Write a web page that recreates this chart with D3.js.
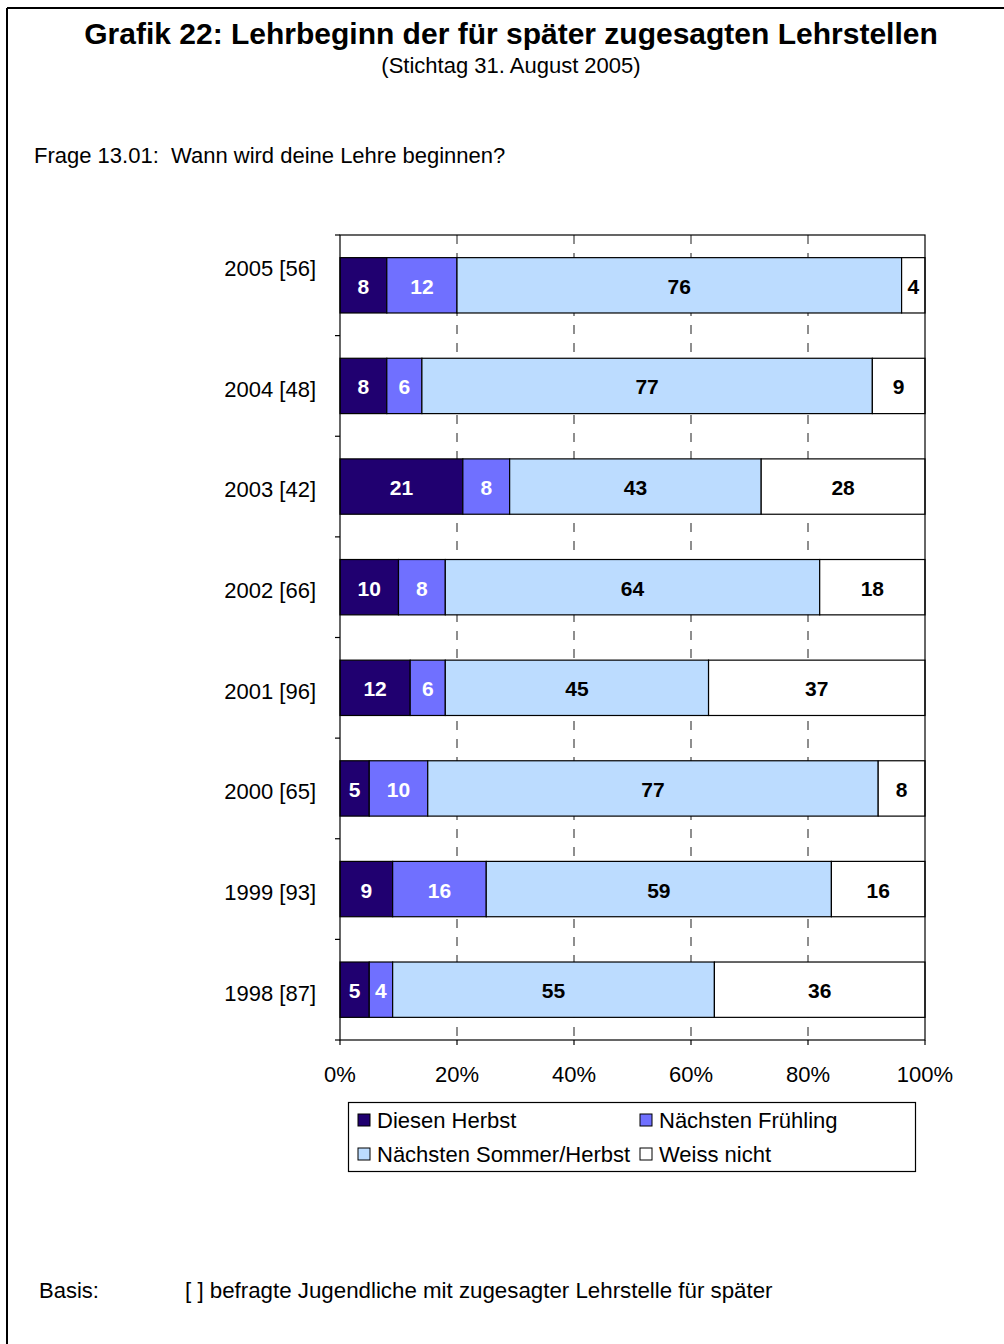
<!DOCTYPE html>
<html>
<head>
<meta charset="utf-8">
<script src="https://d3js.org/d3.v7.min.js"></script>
<style>
  body { margin: 0; background: #fff; }
  text { font-family: Arial, "Liberation Sans", sans-serif; }
</style>
</head>
<body>
<div id="chart"></div>
<script>
// values (percent per year)
var years = ["2005 [56]", "2004 [48]", "2003 [42]", "2002 [66]", "2001 [96]", "2000 [65]", "1999 [93]", "1998 [87]"];
var diesenHerbst   = [8, 8, 21, 10, 12, 5, 9, 5];
var naechstenFrueh = [12, 6, 8, 8, 6, 10, 16, 4];
var naechstenSomm  = [76, 77, 43, 64, 45, 77, 59, 55];
var weissNicht     = [4, 9, 28, 18, 37, 8, 16, 36];
var seriesNames = ["Diesen Herbst", "Nächsten Frühling", "Nächsten Sommer/Herbst", "Weiss nicht"];
var xTicks = [0, 20, 40, 60, 80, 100];

var colors = ["#200070", "#7070ff", "#bcdcff", "#ffffff"];
var labelColors = ["#fff", "#fff", "#000", "#000"];

var W = 1004, H = 1344;
var svg = d3.select("#chart").append("svg")
    .attr("width", W).attr("height", H);

// outer frame (top + left)
svg.append("line").attr("x1", 7).attr("x2", W).attr("y1", 8).attr("y2", 8)
    .attr("stroke", "#000").attr("stroke-width", 2);
svg.append("line").attr("x1", 7).attr("x2", 7).attr("y1", 8).attr("y2", H)
    .attr("stroke", "#000").attr("stroke-width", 2);

// titles
svg.append("text").attr("x", 511).attr("y", 44).attr("text-anchor", "middle")
    .style("font-size", "30px").style("font-weight", "bold")
    .text("Grafik 22: Lehrbeginn der für später zugesagten Lehrstellen");
svg.append("text").attr("x", 511).attr("y", 73).attr("text-anchor", "middle")
    .style("font-size", "22px")
    .text("(Stichtag 31. August 2005)");
svg.append("text").attr("x", 34).attr("y", 163)
    .style("font-size", "22px").style("white-space", "pre")
    .text("Frage 13.01:  Wann wird deine Lehre beginnen?");

// plot area
var plotL = 340, plotR = 925, plotT = 235, plotB = 1040;

var x = d3.scaleLinear().domain([0, 100]).range([plotL, plotR]);
var y = d3.scaleBand().domain(years).range([plotT, plotB]).paddingInner(0.45).paddingOuter(0.225);

// stacked table
var table = years.map(function(yr, i) {
    return { year: yr, a: diesenHerbst[i], b: naechstenFrueh[i], c: naechstenSomm[i], d: weissNicht[i] };
});
var keys = ["a", "b", "c", "d"];
var stacked = d3.stack().keys(keys)(table);

// dashed gridlines
svg.append("g").selectAll("line")
    .data(xTicks.filter(function(t) { return t > 0 && t < 100; }))
    .enter().append("line")
    .attr("x1", function(d) { return x(d); })
    .attr("x2", function(d) { return x(d); })
    .attr("y1", plotT).attr("y2", plotB)
    .attr("stroke", "#444").attr("stroke-width", 1.2)
    .attr("stroke-dasharray", "9,9");

// bars
var groups = svg.append("g").selectAll("g")
    .data(stacked).enter().append("g")
    .attr("fill", function(d, i) { return colors[i]; });

groups.selectAll("rect")
    .data(function(d) { return d; })
    .enter().append("rect")
    .attr("x", function(d) { return x(d[0]); })
    .attr("width", function(d) { return x(d[1]) - x(d[0]); })
    .attr("y", function(d) { return y(d.data.year); })
    .attr("height", y.bandwidth())
    .attr("stroke", "#000").attr("stroke-width", 1.2);

// value labels
groups.each(function(s, i) {
    d3.select(this).selectAll("text")
        .data(s).enter().append("text")
        .attr("x", function(d) { return (x(d[0]) + x(d[1])) / 2; })
        .attr("y", function(d) { return y(d.data.year) + y.bandwidth() / 2 + 1; })
        .attr("dy", "0.36em")
        .attr("text-anchor", "middle")
        .style("font-size", "21px").style("font-weight", "bold")
        .attr("fill", labelColors[i])
        .text(function(d) { return d[1] - d[0]; });
});

// plot frame
svg.append("rect").attr("x", plotL).attr("y", plotT)
    .attr("width", plotR - plotL).attr("height", plotB - plotT)
    .attr("fill", "none").attr("stroke", "#000").attr("stroke-width", 1.2);

// y axis ticks at band boundaries
var bounds = d3.range(years.length + 1).map(function(i) { return plotT + i * (plotB - plotT) / years.length; });
svg.append("g").selectAll("line").data(bounds).enter().append("line")
    .attr("x1", plotL - 5).attr("x2", plotL)
    .attr("y1", function(d) { return d; }).attr("y2", function(d) { return d; })
    .attr("stroke", "#000").attr("stroke-width", 1.2);

// x axis tick marks and labels
svg.append("g").selectAll("line").data(xTicks).enter().append("line")
    .attr("x1", function(d) { return x(d); }).attr("x2", function(d) { return x(d); })
    .attr("y1", plotB).attr("y2", plotB + 5)
    .attr("stroke", "#000").attr("stroke-width", 1.2);
svg.append("g").selectAll("text").data(xTicks).enter().append("text")
    .attr("x", function(d) { return x(d); })
    .attr("y", plotB + 42)
    .attr("text-anchor", "middle")
    .style("font-size", "22px")
    .text(function(d) { return d + "%"; });

// category labels
svg.append("g").selectAll("text").data(years).enter().append("text")
    .attr("x", 316)
    .attr("y", function(d, i) { return y(d) + y.bandwidth() / 2 + (i === 0 ? -17 : 3); })
    .attr("dy", "0.36em")
    .attr("text-anchor", "end")
    .style("font-size", "22px")
    .text(function(d) { return d; });

// legend
var lg = svg.append("g");
lg.append("rect").attr("x", 348.5).attr("y", 1102.5).attr("width", 567).attr("height", 69)
    .attr("fill", "#fff").attr("stroke", "#000").attr("stroke-width", 1.2);
var legPos = [[358, 1128], [640, 1128], [358, 1162], [640, 1162]];
seriesNames.forEach(function(name, i) {
    lg.append("rect").attr("x", legPos[i][0]).attr("y", legPos[i][1] - 14)
        .attr("width", 12).attr("height", 12)
        .attr("fill", colors[i]).attr("stroke", "#000").attr("stroke-width", 1);
    lg.append("text").attr("x", legPos[i][0] + 19).attr("y", legPos[i][1])
        .style("font-size", "22px").text(name);
});

// footer
svg.append("text").attr("x", 39).attr("y", 1298).style("font-size", "22px").text("Basis:");
svg.append("text").attr("x", 185).attr("y", 1298).style("font-size", "22.3px")
    .text("[ ] befragte Jugendliche mit zugesagter Lehrstelle für später");
</script>
</body>
</html>
